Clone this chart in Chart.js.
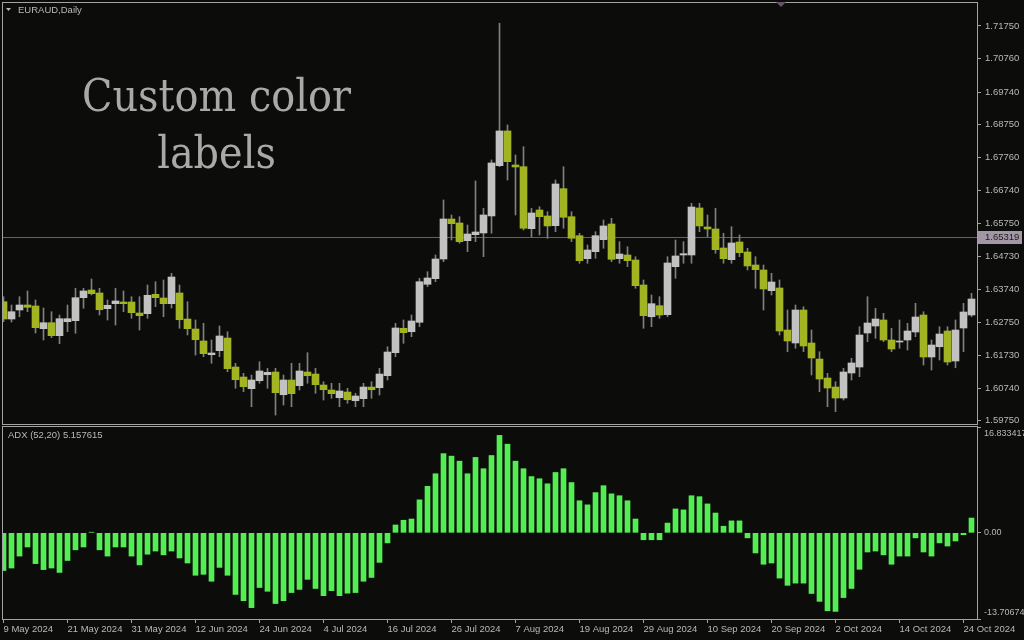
<!DOCTYPE html>
<html><head><meta charset="utf-8">
<script src="https://cdn.jsdelivr.net/npm/chart.js@4.4.1/dist/chart.umd.min.js"></script>
<style>
html,body{margin:0;padding:0;background:#0c0c0a;}
#wrap{position:relative;width:1024px;height:640px;overflow:hidden;background:#0c0c0a;}
#c1{position:absolute;left:0;top:0;}
#c2{position:absolute;left:0;top:425px;}
</style></head><body>
<div id="wrap"><canvas id="c1" width="1024" height="426"></canvas><canvas id="c2" width="1024" height="215"></canvas></div>
<script>
// ---------- data ----------
const symbolTitle = 'EURAUD,Daily';
const headline = ['Custom color', 'labels'];
const adxTitle = 'ADX (52,20) 5.157615';
const dateLabels = ['9 May 2024','21 May 2024','31 May 2024','12 Jun 2024','24 Jun 2024','4 Jul 2024','16 Jul 2024','26 Jul 2024','7 Aug 2024','19 Aug 2024','29 Aug 2024','10 Sep 2024','20 Sep 2024','2 Oct 2024','14 Oct 2024','24 Oct 2024'];
const priceTicks = [1.71750,1.70760,1.69740,1.68750,1.67760,1.66740,1.65750,1.64730,1.63740,1.62750,1.61730,1.60740,1.59750];
const levelPrice = 1.65319;
const adxTicks = [-13.70674, 0, 16.833417];
const adxTickLabels = ['-13.70674', '0.00', '16.833417'];

const open = [1.63367,1.62841,1.63115,1.63267,1.63237,1.62547,1.62729,1.62334,1.62759,1.62790,
1.63489,1.63723,1.63632,1.63155,1.63307,1.63358,1.63358,1.63024,1.63003,1.63592,
1.63480,1.63307,1.63632,1.62841,1.62537,1.62173,1.61756,1.61878,1.62264,1.61382,
1.61078,1.60723,1.60966,1.61148,1.61230,1.60540,1.60987,1.60814,1.61230,1.61169,
1.60835,1.60683,1.60449,1.60622,1.60358,1.60419,1.60774,1.60753,1.61118,1.61817,
1.62559,1.62455,1.62741,1.63896,1.64067,1.64665,1.65881,1.65760,1.65222,1.65404,
1.65456,1.65973,1.67502,1.68557,1.67523,1.67471,1.65587,1.66155,1.65973,1.65678,
1.66803,1.65951,1.65374,1.64675,1.64887,1.65252,1.65729,1.64675,1.64787,1.64635,
1.63875,1.62911,1.63246,1.62973,1.64431,1.64787,1.64787,1.66216,1.65638,1.65577,
1.65000,1.64644,1.65182,1.64878,1.64483,1.64331,1.63702,1.63784,1.62507,1.62112,
1.63115,1.62112,1.61625,1.61048,1.60774,1.60440,1.61200,1.61382,1.62416,1.62629,
1.62811,1.62203,1.62142,1.62203,1.62446,1.62963,1.61686,1.61999,1.62477,1.61565,
1.62568,1.62963];
const high = [1.63519,1.63267,1.63519,1.63693,1.63419,1.63176,1.63063,1.62963,1.63267,1.63775,
1.63775,1.64057,1.63775,1.63419,1.63775,1.63693,1.63519,1.63519,1.63875,1.63975,
1.64027,1.64231,1.63875,1.63367,1.62811,1.62711,1.62203,1.62629,1.62455,1.61495,
1.61191,1.61139,1.61543,1.61343,1.61343,1.61139,1.61495,1.61495,1.61817,1.61343,
1.60935,1.60888,1.60888,1.60735,1.60583,1.60888,1.60935,1.61343,1.61999,1.62711,
1.62811,1.62963,1.64079,1.64279,1.64787,1.66459,1.66003,1.65951,1.65699,1.67037,
1.66207,1.67675,1.71831,1.68739,1.67827,1.68079,1.66207,1.66255,1.66103,1.67067,
1.67471,1.66103,1.65447,1.65091,1.65495,1.65851,1.65903,1.65191,1.65039,1.64735,
1.64027,1.63571,1.63519,1.64735,1.65243,1.65191,1.66359,1.66359,1.66003,1.66207,
1.65447,1.65647,1.65395,1.64991,1.64735,1.64483,1.64231,1.64027,1.63115,1.63267,
1.63215,1.62507,1.61847,1.61191,1.60935,1.61343,1.61647,1.62607,1.63519,1.63167,
1.63015,1.62559,1.62811,1.62711,1.63319,1.63063,1.62203,1.62607,1.62607,1.62811,
1.63319,1.63623];
const low = [1.62759,1.62750,1.62911,1.63063,1.62416,1.62203,1.62273,1.62091,1.62455,1.62407,
1.63167,1.63571,1.62963,1.62811,1.62659,1.63063,1.62863,1.62507,1.62863,1.63215,
1.62911,1.63176,1.62559,1.62355,1.61747,1.61695,1.61495,1.61695,1.61239,1.60735,
1.60631,1.60175,1.60888,1.60735,1.59923,1.60227,1.60175,1.60683,1.60888,1.60583,
1.60379,1.60431,1.60175,1.60279,1.60175,1.60175,1.60431,1.60531,1.60987,1.61695,
1.62103,1.62303,1.62607,1.63823,1.63975,1.64583,1.65243,1.65143,1.64887,1.65191,
1.64735,1.65447,1.67471,1.67067,1.66003,1.65547,1.65343,1.65395,1.65295,1.65495,
1.65599,1.65191,1.64535,1.64535,1.64687,1.64991,1.64583,1.64535,1.64431,1.63775,
1.62559,1.62607,1.62863,1.62911,1.64079,1.64535,1.64535,1.65495,1.65343,1.64839,
1.64535,1.64535,1.64735,1.64331,1.63775,1.63115,1.63571,1.62355,1.61847,1.61951,
1.61847,1.61139,1.60631,1.60175,1.60023,1.60379,1.60987,1.61087,1.62151,1.62255,
1.62151,1.61847,1.61951,1.61899,1.62303,1.61443,1.61291,1.61595,1.61443,1.61361,
1.61847,1.62911];
const close = [1.62841,1.63063,1.63267,1.63197,1.62577,1.62729,1.62334,1.62851,1.62851,1.63489,
1.63693,1.63611,1.63124,1.63258,1.63389,1.63307,1.63033,1.62942,1.63562,1.63489,
1.63307,1.64118,1.62820,1.62547,1.62212,1.61787,1.61808,1.62325,1.61331,1.60996,
1.60783,1.60987,1.61261,1.61221,1.60601,1.60987,1.60571,1.61261,1.61118,1.60844,
1.60692,1.60571,1.60653,1.60388,1.60501,1.60774,1.60692,1.61169,1.61838,1.62568,
1.62425,1.62781,1.63975,1.64088,1.64665,1.65881,1.65739,1.65191,1.65425,1.65486,
1.66003,1.67584,1.68557,1.67623,1.67462,1.65599,1.66064,1.65951,1.65669,1.66945,
1.65933,1.65295,1.64614,1.64939,1.65374,1.65669,1.64656,1.64817,1.64614,1.63854,
1.62942,1.63307,1.62963,1.64544,1.64757,1.64827,1.66246,1.65669,1.65577,1.64948,
1.64675,1.65152,1.64857,1.64453,1.64340,1.63753,1.63966,1.62477,1.62173,1.63115,
1.62021,1.61656,1.61017,1.60744,1.60440,1.61230,1.61505,1.62355,1.62720,1.62841,
1.62203,1.61929,1.62173,1.62477,1.62902,1.61686,1.62051,1.62385,1.61534,1.62507,
1.63054,1.63449];
const adx = [-6.0,-5.6,-3.7,-2.25,-4.9,-5.85,-5.6,-6.3,-4.4,-2.7,
-2.25,0.1,-2.7,-3.7,-2.25,-2.25,-3.7,-5.1,-3.4,-2.9,
-3.5,-2.9,-4.0,-4.8,-6.75,-6.6,-7.7,-5.5,-6.75,-9.8,
-10.8,-11.9,-8.7,-9.3,-11.25,-10.8,-9.5,-9.0,-7.4,-8.85,
-10.0,-9.2,-10.0,-9.6,-9.5,-7.7,-7.1,-4.7,-1.6,1.25,
2.0,2.2,5.25,7.4,9.4,12.6,12.2,11.4,9.4,12.0,
10.2,12.3,15.5,14.1,11.4,10.2,8.95,8.6,7.8,9.6,
10.2,8.0,5.1,4.45,6.4,7.5,6.2,5.9,5.1,2.2,
-1.1,-1.1,-1.1,1.55,3.8,3.65,5.9,5.75,4.6,3.15,
1.05,1.9,1.9,-0.8,-3.2,-5.0,-4.8,-7.2,-8.35,-8.0,
-8.0,-9.65,-10.9,-12.4,-12.5,-10.3,-8.85,-5.8,-3.05,-2.9,
-3.5,-5.0,-3.7,-3.7,-0.8,-3.05,-3.7,-1.6,-2.1,-1.3,
-0.3,2.35];

// ---------- style ----------
const BG = '#0c0c0a', FRAME = '#a3a3a3', TXT = '#b9b9b9';
const BULL = '#c2c2c2', BEAR = '#a2b421', WICK = '#808080', ADXC = '#52ee52';
const LEVELC = '#6f5f70';
const XMIN = -0.1875, XMAX = XMIN + 975 / 8;
const PMIN = 1.59650, PMAX = 1.72446;
const axisFont = {family: 'Liberation Sans', size: 9.5};

Chart.defaults.animation = false;
Chart.defaults.color = TXT;

const idx = open.map((_, i) => i);

const framePlugin = {
  id: 'frame',
  beforeDraw(chart) {
    const c = chart.ctx;
    c.save(); c.fillStyle = BG; c.fillRect(0, 0, chart.width, chart.height); c.restore();
  },
  afterDraw(chart) {
    const c = chart.ctx, a = chart.chartArea;
    c.save();
    c.strokeStyle = FRAME; c.lineWidth = 1;
    c.strokeRect(a.left + 0.5, a.top - 0.5, a.right - a.left, a.bottom - a.top + 1);
    c.restore();
  }
};

const mainDeco = {
  id: 'mainDeco',
  afterDraw(chart) {
    const c = chart.ctx, y = chart.scales.y;
    c.save();
    c.fillStyle = TXT;
    c.beginPath(); c.moveTo(6, 8); c.lineTo(11, 8); c.lineTo(8.5, 11); c.closePath(); c.fill();
    c.font = '9.5px "Liberation Sans"'; c.textBaseline = 'middle'; c.textAlign = 'left';
    c.fillText(symbolTitle, 18, 10.5);
    c.fillStyle = '#a9a9a9';
    c.font = '45px "DejaVu Serif"'; c.textAlign = 'center'; c.textBaseline = 'alphabetic';
    c.save(); c.translate(216.5, 0); c.scale(0.885, 1);
    c.fillText(headline[0], 0, 111); c.fillText(headline[1], 0, 168);
    c.restore();
    const py = Math.round(y.getPixelForValue(levelPrice));
    c.fillStyle = '#a396a6';
    c.fillRect(978, py - 6, 44, 13);
    c.fillStyle = '#1d1a1e'; c.font = '9.5px "Liberation Sans"'; c.textAlign = 'left'; c.textBaseline = 'middle';
    c.fillText(levelPrice.toFixed(5), 985, py + 0.5);
    c.fillStyle = '#6a4f6e';
    c.beginPath(); c.moveTo(776, 2); c.lineTo(786, 2); c.lineTo(781, 7); c.closePath(); c.fill();
    c.restore();
  }
};

const adxDeco = {
  id: 'adxDeco',
  afterDraw(chart) {
    const c = chart.ctx;
    c.save();
    c.fillStyle = TXT; c.font = '9.5px "Liberation Sans"'; c.textBaseline = 'middle'; c.textAlign = 'left';
    c.fillText(adxTitle, 8, 10);
    c.restore();
  }
};

new Chart(document.getElementById('c1'), {
  data: {
    datasets: [
      {type: 'line', data: [{x: XMIN, y: levelPrice}, {x: XMAX, y: levelPrice}], borderColor: LEVELC, borderWidth: 1, pointRadius: 0, order: 3, clip: 0},
      {type: 'bar', data: idx.map(i => ({x: i, y: [low[i], high[i]]})), backgroundColor: WICK, barThickness: 1, grouped: false, order: 1, clip: 0, borderWidth: 0},
      {type: 'bar', data: idx.map(i => ({x: i, y: [open[i], close[i]]})), backgroundColor: idx.map(i => close[i] >= open[i] ? BULL : BEAR), barThickness: 7, minBarLength: 1, grouped: false, order: 0, clip: 0, borderWidth: 0}
    ]
  },
  options: {
    responsive: false, devicePixelRatio: 1, animation: false,
    layout: {padding: {left: 2, top: 3, right: 0, bottom: 2}},
    plugins: {legend: {display: false}, tooltip: {enabled: false}, title: {display: false}},
    scales: {
      x: {type: 'linear', min: XMIN, max: XMAX, offset: false, display: false},
      y: {
        type: 'linear', position: 'right', min: PMIN, max: PMAX,
        afterBuildTicks: s => { s.ticks = priceTicks.map(v => ({value: v})); },
        afterFit: s => { s.width = 47; s.paddingTop = 0; s.paddingBottom = 0; },
        ticks: {callback: v => v.toFixed(5), color: TXT, font: axisFont, padding: 4, autoSkip: false},
        grid: {drawOnChartArea: false, drawTicks: true, tickLength: 4, color: FRAME},
        border: {display: false}
      }
    }
  },
  plugins: [framePlugin, mainDeco]
});

new Chart(document.getElementById('c2'), {
  data: {
    datasets: [
      {type: 'bar', data: idx.map(i => ({x: i, y: adx[i]})), backgroundColor: ADXC, barThickness: 5, grouped: false, clip: 0, borderWidth: 0}
    ]
  },
  options: {
    responsive: false, devicePixelRatio: 1, animation: false,
    layout: {padding: {left: 2, top: 2, right: 0, bottom: 0}},
    plugins: {legend: {display: false}, tooltip: {enabled: false}, title: {display: false}},
    scales: {
      x: {
        type: 'linear', min: XMIN, max: XMAX, offset: false,
        afterBuildTicks: s => { s.ticks = dateLabels.map((_, k) => ({value: k * 8})); },
        afterFit: s => { s.height = 21; s.paddingLeft = 0; s.paddingRight = 0; },
        ticks: {callback: (v, i) => dateLabels[i], align: 'start', autoSkip: false, maxRotation: 0, minRotation: 0, padding: 1, color: TXT, font: axisFont},
        grid: {drawOnChartArea: false, drawTicks: true, tickLength: 4, color: FRAME, offset: false},
        border: {display: false}
      },
      y: {
        type: 'linear', position: 'right', min: adxTicks[0], max: adxTicks[2],
        afterBuildTicks: s => { s.ticks = adxTicks.map(v => ({value: v})); },
        afterFit: s => { s.width = 47; s.paddingTop = 0; s.paddingBottom = 0; },
        ticks: {
          callback: (v, i) => i === 0 ? [adxTickLabels[0], ''] : (i === 2 ? ['', adxTickLabels[2]] : adxTickLabels[1]),
          color: TXT, font: {family: 'Liberation Sans', size: 9, lineHeight: 1.45}, padding: 3, autoSkip: false
        },
        grid: {drawOnChartArea: false, drawTicks: true, tickLength: 4, color: FRAME},
        border: {display: false}
      }
    }
  },
  plugins: [framePlugin, adxDeco]
});
</script>
</body></html>
